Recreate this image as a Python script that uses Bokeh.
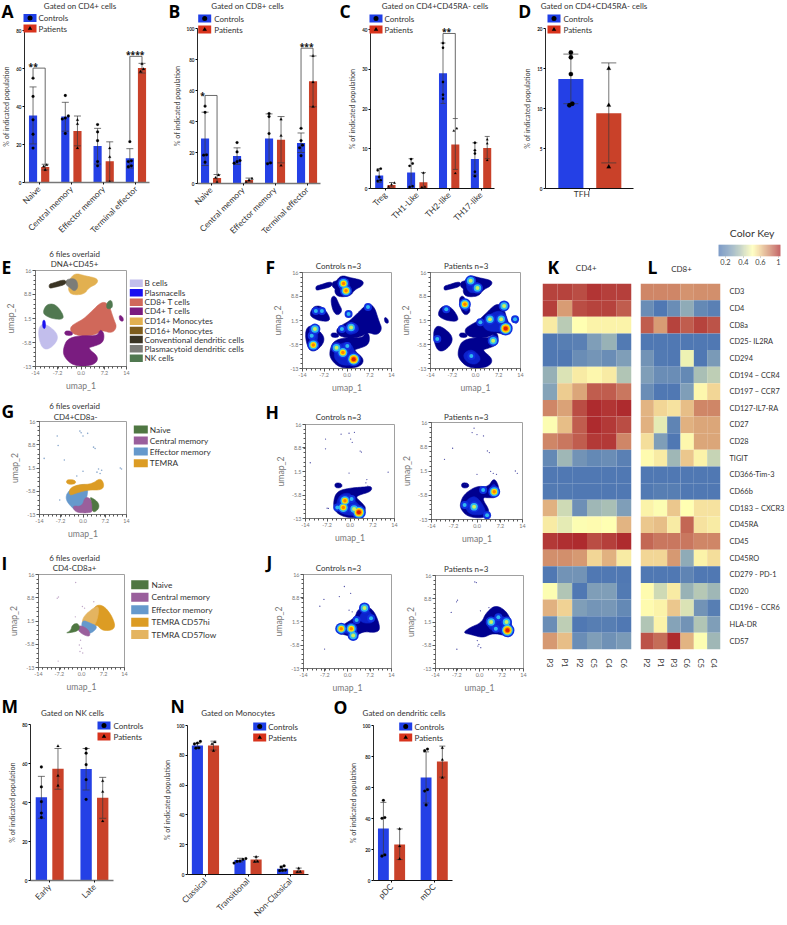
import math
import numpy as np
from bokeh.plotting import figure
from bokeh.layouts import column
from bokeh.models import Range1d, FixedTicker, FactorRange, LinearColorMapper, ColumnDataSource
from bokeh.core.properties import value
from bokeh.embed import file_html
from bokeh.resources import INLINE

FONT = "Lato"
BLUE = "#2440e6"
RED = "#c94129"

# ---------- bar chart data ----------
A_CATS = ["Naive", "Central memory", "Effector memory", "Terminal effector"]
A_CTRL = [35.3, 34.7, 19.2, 12.7]
A_CTRL_HI = [50.3, 42.2, 28.5, 17.8]
A_CTRL_LO = [20.3, 27.0, 9.7, 7.6]
A_CTRL_PTS = [[54.9, 45.3, 33.0, 25.4, 18.1], [45.8, 35.0, 33.9, 33.4, 25.8], [30.5, 26.6, 22.0, 11.0, 8.8], [21.5, 11.4, 11.0, 8.8, 8.3]]
A_PAT = [8.1, 27.1, 11.2, 60.2]
A_PAT_HI = [9.6, 35.0, 21.4, 62.7]
A_PAT_LO = [6.6, 19.3, 0.7, 57.6]
A_PAT_PTS = [[9.2, 8.5, 6.6], [32.9, 30.8, 18.1], [18.0, 13.4, 0.3], [62.4, 59.7, 58.3]]

B_CATS = A_CATS
B_CTRL = [29.1, 17.7, 29.1, 26.2]
B_CTRL_HI = [46.0, 23.0, 44.9, 32.6]
B_CTRL_LO = [11.6, 12.3, 13.3, 20.0]
B_CTRL_PTS = [[49.9, 45.9, 18.5, 18.3, 13.7], [26.4, 20.4, 14.8, 14.1, 13.1], [45.1, 43.2, 32.2, 13.3, 12.7], [35.6, 27.7, 24.7, 23.0, 17.9]]
B_PAT = [3.5, 2.3, 28.3, 65.9]
B_PAT_HI = [5.8, 3.5, 43.2, 82.3]
B_PAT_LO = [0.0, 1.0, 13.3, 49.5]
B_PAT_PTS = [[5.4, 3.7, 0.8], [3.1, 2.1, 0.8], [41.4, 30.8, 11.6], [82.3, 65.3, 49.5]]

C_CATS = ["Treg", "TH1-Like", "TH2-like", "TH17-like"]
C_CTRL = [3.3, 4.0, 29.0, 7.4]
C_CTRL_HI = [5.0, 7.5, 36.6, 11.5]
C_CTRL_LO = [1.5, 0.4, 21.4, 3.4]
C_CTRL_PTS = [[5.0, 4.6, 2.9, 2.1, 1.9], [7.4, 6.3, 5.7, 0.6, 0.4], [36.6, 35.4, 26.8, 23.6, 22.6], [11.5, 9.6, 8.8, 4.2, 3.1]]
C_PAT = [0.9, 1.6, 11.1, 10.2]
C_PAT_HI = [1.5, 4.0, 17.6, 13.1]
C_PAT_LO = [0.4, 0.0, 4.8, 7.5]
C_PAT_PTS = [[1.4, 1.0, 0.4], [3.9, 0.4, 0.3], [15.1, 14.5, 3.8], [12.3, 11.3, 7.1]]

D_CATS = ["TFH"]
D_CTRL = [13.7]
D_CTRL_HI = [16.8]
D_CTRL_LO = [10.6]
D_CTRL_PTS = [[17.0, 16.4, 14.3, 10.6, 10.4]]
D_PAT = [9.4]
D_PAT_HI = [15.7]
D_PAT_LO = [3.2]
D_PAT_PTS = [[15.0, 10.4, 2.7]]

M_CATS = ["Early", "Late"]
M_CTRL = [42.7, 57.2]
M_CTRL_HI = [53.4, 67.7]
M_CTRL_LO = [31.9, 46.4]
M_CTRL_PTS = [[58.2, 48.0, 40.4, 34.6, 32.3], [67.6, 65.3, 59.4, 51.7, 41.6]]
M_PAT = [57.3, 42.5]
M_PAT_HI = [67.7, 52.9]
M_PAT_LO = [46.8, 31.9]
M_PAT_PTS = [[68.9, 53.7, 48.6], [51.0, 45.5, 30.4]]

N_CATS = ["Classical", "Transitional", "Non-Classical"]
N_CTRL = [86.5, 9.7, 3.9]
N_CTRL_HI = [88.0, 10.9, 5.6]
N_CTRL_LO = [84.8, 8.4, 2.1]
N_CTRL_PTS = [[89.3, 88.2, 87.6, 85.0, 84.8], [10.7, 10.1, 9.0, 8.8, 7.7], [5.8, 4.9, 3.0, 2.8, 2.6]]
N_PAT = [86.5, 10.1, 2.8]
N_PAT_HI = [89.5, 12.0, 4.3]
N_PAT_LO = [83.5, 8.2, 1.3]
N_PAT_PTS = [[88.8, 87.6, 83.0], [11.8, 8.8, 8.6], [4.1, 1.9, 1.7]]

O_CATS = ["pDC", "mDC"]
O_CTRL = [33.5, 66.5]
O_CTRL_HI = [50.4, 83.0]
O_CTRL_LO = [16.5, 50.0]
O_CTRL_PTS = [[51.7, 40.6, 40.1, 16.5, 15.7], [84.8, 83.7, 58.6, 57.7, 48.7]]
O_PAT = [23.2, 76.8]
O_PAT_HI = [33.3, 86.7]
O_PAT_LO = [13.5, 66.7]
O_PAT_PTS = [[33.3, 22.1, 13.9], [85.6, 77.9, 66.3]]

# significance brackets: group index, top, left foot, right foot, stars
A_BRACKETS = [(0, 60.2, 54.9, 9.6, "**"), (3, 66.4, 22.0, 63.0, "****")]
B_BRACKETS = [(0, 56.8, 49.9, 5.8, "*"), (3, 87.3, 36.0, 82.3, "***")]
C_BRACKETS = [(2, 39.0, 36.6, 17.6, "**")]

# ---------- heatmap data ----------
MARKERS = ["CD3", "CD4", "CD8a", "CD25- IL2RA", "CD294", "CD194 \u2212 CCR4", "CD197 \u2212 CCR7", "CD127-IL7-RA",
           "CD27", "CD28", "TIGIT", "CD366-Tim-3", "CD66b", "CD183 \u2212 CXCR3", "CD45RA", "CD45", "CD45RO",
           "CD279 - PD-1", "CD20", "CD196 \u2212 CCR6", "HLA-DR", "CD57"]
K_SAMPLES = ["P3", "P1", "P2", "C5", "C4", "C6"]
K_VALUES = [
    [.95, .95, .93, .98, .96, .96], [.96, .77, .93, .95, .95, .90], [.60, .37, .55, .58, .58, .58],
    [.02, .05, .06, .20, .28, .03], [.02, .02, .12, .16, .12, .20], [.27, .45, .60, .57, .60, .35],
    [.22, .67, .75, .90, .90, .85], [.82, .76, .93, 1.0, .98, 1.0], [.54, .70, .90, 1.0, .97, .93],
    [.82, .85, .90, .97, .97, .82], [.10, .30, .15, .10, .12, .06], [.02, .02, .02, .02, .02, .02],
    [.03, .03, .02, .02, .02, .02], [.73, .42, .13, .30, .33, .20], [.60, .48, .54, .56, .55, .72],
    [.97, .99, 1.0, .93, .96, 1.0], [.80, .80, .78, .65, .73, .60], [.02, .15, .15, .02, .02, .02],
    [.54, .35, .02, .20, .20, .03], [.73, .66, .20, .16, .17, .10], [.12, .38, .02, .05, .05, .02],
    [.78, .70, .12, .20, .14, .18]]
L_SAMPLES = ["P2", "P1", "P3", "C6", "C5", "C4"]
L_VALUES = [
    [.82, .82, .82, .79, .80, .80], [.12, .02, .12, .25, .10, .06], [.90, .77, .95, .90, .95, .92],
    [.02, .02, .02, .02, .02, .02], [.15, .03, .02, .50, .02, .18], [.20, .12, .12, .10, .33, .38],
    [.12, .02, .02, .20, .57, .65], [.72, .65, .62, .70, .82, .82], [.73, .48, .08, .73, .75, .75],
    [.63, .20, .02, .57, .75, .75], [.56, .60, .30, .68, .58, .40], [.02, .02, .02, .02, .02, .02],
    [.03, .05, .05, .02, .02, .02], [.58, .54, .68, .55, .62, .62], [.68, .70, .60, .88, .62, .60],
    [.88, .85, .85, .85, .82, .82], [.65, .65, .78, .25, .58, .63], [.02, .02, .02, .08, .02, .02],
    [.56, .42, .60, .28, .36, .30], [.56, .58, .68, .45, .15, .05], [.35, .58, .22, .15, .35, .20],
    [.92, .87, 1.0, .72, .54, .30]]

# ---------- UMAP outlines, in umap coordinates ----------
MONO = [(-3.4, 13.6), (-1.7, 15.2), (1.2, 14.4), (5.2, 13.6), (5.0, 12), (2.4, 10.8), (1.0, 8.8), (-2.9, 8.6), (-4.0, 10.2), (-3.4, 12)]
PDC = [(-4.5, 13.4), (-1.5, 13.6), (-0.8, 11), (-2, 9.6), (-3.4, 10.8), (-4.8, 11.8)]
CDC = [(-9.8, 11.9), (-8.6, 12.2), (-4.8, 13.4), (-4.5, 11.8), (-8.6, 10.8), (-9.8, 10.6)]
NK = [(-11.6, 4.0), (-10.4, 5.9), (-7.8, 5.8), (-5.6, 3.0), (-5.4, 1.2), (-8.8, 1.4), (-11.4, 2.6)]
BCELL = [(-12.9, -0.9), (-11.2, 0.1), (-7.5, -2.6), (-7.1, -5.1), (-9.7, -7.8), (-11.9, -7.6), (-13.1, -4.1)]
PLASMA = [(-11.8, 1.0), (-11.0, 1.0), (-10.9, -1.6), (-11.8, -1.4)]
CD8 = [(-3.4, -1.1), (-1.5, 0.2), (0.7, 1.3), (3, 3.4), (6.4, 6.7), (8.6, 5.8), (10.0, 1.4), (11.1, -1.1), (9.5, -3.0), (6.4, -2.0), (4.5, -3.4), (0.7, -4.0), (-2.9, -3.0)]
CD4 = [(-5.4, -7.2), (-4.0, -4.4), (0.7, -3.6), (5, -3.8), (5.9, -1.7), (7.2, -3.1), (6.8, -5.9), (3.6, -7.0), (2.0, -7.4), (5.6, -10.2), (4.0, -12.7), (-2.1, -13), (-5.4, -10.0)]
NK2 = [(8.0, 6.5), (9.5, 7.2), (9.8, 4.6), (7.8, 4.3)]
MINOR_A = [(-5.0, -2.2), (-2.9, -2.3), (-2.4, -3.6), (-5.0, -3.6)]
MINOR_B = [(11.7, 2.6), (12.9, 2.0), (13.1, 0.6), (11.9, 0.8)]
MID_CLUSTER = [(-5.2, 8.2), (-3.8, 9.2), (-2.5, 6.4), (-1.4, 4.4), (-3, 2.9), (-4.5, 4.4)]
G_EM = [(-5.0, -6), (-2.2, -3.9), (1.5, -3.6), (1.5, -7), (0, -10.9), (-2.2, -12), (-4.5, -9.9), (-5.6, -8)]
G_TEMRA = [(-4.4, -4.8), (-1.2, -3.6), (2.7, -3.6), (5.7, -1.5), (6.9, -3.9), (5.9, -5.4), (1.7, -5.3), (-2.2, -6.3), (-4.4, -7.2)]
G_CM = [(-3.5, -10.2), (-0.3, -10.6), (0.7, -7.3), (2.9, -8.4), (3.5, -12), (1.2, -12.6), (-2.5, -12.3)]
G_NAIVE = [(2, -7.3), (5.0, -9.1), (5.2, -11.3), (3, -12.6), (3, -9.1)]
G_SMALL = [(-5.4, -2.1), (-2.5, -2.2), (-2.3, -3.5), (-5.2, -3.6)]
I_HI = [(4.0, 6.2), (7.0, 6.6), (10.1, 2.9), (11.2, -1.1), (6.8, -1.7), (4.8, 0.7), (2.8, -1.7), (3.5, 2)]
I_LOW = [(0.1, 2.4), (3.8, 5.6), (5.9, 6.2), (4.9, 0.7), (2.3, -1.7), (0.6, -0.6)]
I_EM = [(0.1, 1.9), (2.8, 0.9), (5.5, -0.3), (2.8, -2.7), (0.1, -1.6)]
I_CM = [(-1.4, 0.4), (2.3, -0.9), (3.0, -3.7), (-0.9, -2.1)]
I_NAIVE = [(-3.5, -1.6), (-3.0, 0.4), (-1, 0.9), (-0.5, -1.6), (-5.5, -2.4)]
H_BASE_C = [(-5.3, -8), (-4.2, -4.6), (-0.1, -3.6), (4.2, -3.3), (6.9, -3.0), (6.7, -4.7), (3, -5.7), (1.8, -6.5), (3.6, -8), (5.3, -10), (3.0, -12.7), (-1.6, -12.7), (-4.8, -10.9)]
H_BASE_P = [(-5.2, -8.2), (-4.0, -5.4), (0, -2.9), (3.4, -3.4), (5.3, -0.3), (7.0, -3.7), (5.9, -6.5), (3.8, -6.5), (1.3, -6.4), (4.2, -10.7), (2.1, -12.7), (-2.9, -12.2), (-5.0, -9.9)]
H_SMALL = [(-4.8, -2.0), (-2.6, -2.1), (-2.5, -3.5), (-4.7, -3.6)]
J_BASE_C = [(-3.2, -0.7), (-1, 0.7), (2.4, 2.7), (3.2, 5.2), (5.9, 6.4), (8.6, 4.7), (10.6, -0.7), (9.0, -2.0), (4.9, -1.5), (2, -3.6), (-1, -2.5), (-3.0, -2.3)]
J_BASE_P = [(-5.3, -1.9), (-3.2, -0.3), (0.7, 1.3), (2.0, 4.3), (5.2, 7.0), (9.3, 4.3), (10.7, -1.1), (8.8, -2.9), (4.2, -1.9), (1.2, -3.5), (-2.7, -2.4)]

# brighter blue regions inside the density outlines
F_MID_C = [[(-4, -8), (-2.5, -5.5), (1, -5), (2.5, -8), (4, -10.5), (2, -12), (-2, -12), (-4, -10)],
           [(-12, -1), (-10, -0.5), (-9, -3), (-10, -6.5), (-11.5, -6)], [(-2.5, 13), (1, 13), (0.5, 10), (-2, 9.5)], [(-1, 0), (3, 1), (4, -2), (0, -3)]]
F_MID_P = [[(2, 1), (6, 4.5), (9.5, 4), (10, -1.5), (7, -2), (3, -1.5)], [(-3, 13.5), (2, 12.8), (0.5, 9.8), (-2.5, 10)],
           [(-4.5, 8), (-3, 8), (-1.8, 4.8), (-3.5, 4)], [(-4, -8.5), (-1, -7), (2, -10), (0, -12), (-3, -11)]]
H_MID_C = [[(-4.3, -8), (-3, -5.5), (0, -5), (1, -7), (4, -10), (2.5, -12), (-1.5, -12), (-4, -10.5)]]
H_MID_P = [[(-4, -8.5), (-2.5, -6.5), (0, -6), (3, -10.5), (1.5, -11.7), (-2.5, -11.5)], [(3.8, -3.8), (5.3, -2), (6.3, -4), (5.2, -5.7)]]
J_MID_C = [[(-2.5, -1), (0, 0), (3, -1), (2, -3), (-1, -2)], [(3.5, 3), (6, 5.6), (8, 3.5), (8.5, 1), (4.5, 1)]]
J_MID_P = [[(2.5, 0), (5, 3.5), (9, 3), (10, -1), (8.5, -2.2), (4, -1.2)]]

# density hot spots: x, y, level
F_HOT_C = [(-1.1, 12.7, 3), (-0.3, 10.5, 3), (-9.8, 4.4, 1), (-7.9, 4.4, 1), (-10.1, -1.1, 2), (-10.6, -5.9, 3), (-11.1, -3.1, 1), (1.3, -0.6, 2), (-1.6, -1.1, 1), (-1.3, -8.2, 3), (-3.3, -6.7, 2), (2.1, -10.2, 4), (0.1, -6.2, 1), (0.5, 3.5, 1), (6.6, 5.6, 1)]
F_HOT_P = [(-1.5, 13.5, 2), (0.6, 11.3, 2), (-3.3, 6.4, 3), (4.5, 1.9, 2), (9.4, -0.9, 4), (8, 1.9, 2), (8.9, 5.9, 2), (5.5, -4.6, 2), (-11.9, -4.1, 1), (-9.1, 4.9, 1), (12.3, 1.9, 1), (-1.3, -9.2, 1), (1.5, 1, 1)]
H_HOT_C = [(-1.6, -7.5, 3), (-2.1, -9.6, 3), (0.5, -7, 1), (2.8, -11.1, 4), (1.3, -10.1, 2), (-4, -9.6, 1)]
H_HOT_P = [(5.3, -4.7, 3), (-0.9, -9.2, 2), (-3.8, -8.7, 1), (3.1, -11.7, 1), (1.9, -4.2, 1)]
J_HOT_C = [(-2, -0.7, 3), (1.2, -0.7, 3), (1.8, -2.8, 2), (5.4, 5.7, 2), (2.9, 2, 1), (7.5, 2.5, 1)]
J_HOT_P = [(8.9, -1.1, 4), (3.7, 1.5, 2), (8.6, 1.5, 2), (5.2, -0.6, 1), (6, 3, 1)]
G_SPECKS = [(-1, 13), (-0.6, 12.5), (0, 11.5), (1.5, 12.3), (3.4, 8), (3.9, 7.6), (-8, 8.5), (-8.3, 11.5), (-12.5, 4.5), (-6, 4), (5, 1.2), (6, 0.8), (5.5, -0.2), (4.5, 0.2), (12, 1.5), (12.4, 1.2), (-2, -1), (0, 0.5), (-7.5, -8.5)]
I_SPECKS = [(-1.9, 13.5), (-7.5, 9), (-7.9, 8.6), (-7.6, -11), (-0.7, -6), (0, -7), (-0.5, -8), (0.4, -8.5), (-0.3, -4.5), (0.3, 6), (1, 5.5), (4, 7.5), (-2, 2.8)]
H_SPECKS_C = [(-2.8, 13), (-0.3, 13.3), (0.2, 11.5), (0.7, 10.5), (1.4, 13.6), (3.2, 7.8), (3.6, 7.5), (-7.7, 11.5), (-7.7, 8.5), (-12.5, 4.2), (12, 1.3), (-0.3, 1), (5.3, -1), (5, -2), (5.6, -3), (-7.2, -9.8), (-6.8, -9.9)]
H_SPECKS_P = [(-0.9, 14.3), (-1.5, 13), (0, 12.4), (2, 12), (3.2, 7.5), (3.8, 7), (-7.5, 8.3), (-10, 5), (11.8, 1.5), (12.4, 0.8), (4.2, 1.4), (5, 0.8), (6, 0.5), (0, 0.5), (-3.8, -2.5), (-3.2, -2.6)]
J_SPECKS_C = [(-1, 12.3), (1, 10.2), (-7.5, 8.3), (-8.8, 6.2), (-7.3, -7), (-2.6, 9.2), (0.5, 5), (1.5, 4.5)]
J_SPECKS_P = [(-1.5, 14), (-1, 13.8), (-7, 8.3), (-7.3, 7.8), (-9, 4.5), (-7.2, -7), (-0.7, -4.3), (-0.2, -5.5), (0.4, -6.5), (-0.5, -6), (3, 6), (0.3, 5)]

UMAP_X_TICKS = [-14, -7.2, 0, 7.2, 14]
UMAP_X_LABELS = ["-14", "-7.2", "0.0", "7.2", "14"]
UMAP_Y_TICKS = [-13, -5.8, 1.5, 8.8, 16]
UMAP_Y_LABELS = ["-13", "-5.8", "1.5", "8.8", "16"]

E_LEGEND = ["B cells", "Plasmacells", "CD8+ T cells", "CD4+ T cells", "CD14+ Monocytes", "CD16+ Monocytes", "Conventional dendritic cells", "Plasmacytoid dendritic cells", "NK cells"]
E_COLORS = ["#c2beec", "#1a10f0", "#d0685a", "#7a1c80", "#e2b050", "#7d5c1c", "#3a3424", "#7c7c78", "#507850"]
G_LEGEND = ["Naive", "Central memory", "Effector memory", "TEMRA"]
G_COLORS = ["#4f7742", "#9a5f9c", "#6699cc", "#dc9c24"]
I_LEGEND = ["Naive", "Central memory", "Effector memory", "TEMRA CD57hi", "TEMRA CD57low"]
I_COLORS = ["#4f7742", "#9a5f9c", "#6699cc", "#dc9c24", "#e4b460"]

placed = []  # (figure, left, top)


def base_fig(x0, y0, x1, y1, xr, yr, pl=22, pr=3, pt=3, pb=14, **kw):
    w = int(round(x1 - x0 + pl + pr))
    h = int(round(y1 - y0 + pt + pb))
    p = figure(width=w, height=h, x_range=xr, y_range=yr, toolbar_location=None, output_backend="svg",
               min_border_left=pl, min_border_right=pr, min_border_top=pt, min_border_bottom=pb, frame_align=False, **kw)
    p.background_fill_color = None
    p.border_fill_color = None
    p.outline_line_color = None
    p.grid.visible = False
    placed.append((p, int(round(x0 - pl)), int(round(y0 - pt))))
    return p


def swarm(vals, px_per_unit, d=3.2, gap=2.8):
    vals = sorted(vals)
    out = []
    i = 0
    while i < len(vals):
        j = i
        while j + 1 < len(vals) and (vals[j + 1] - vals[j]) * px_per_unit < gap:
            j += 1
        n = j - i + 1
        for k in range(n):
            out.append(((k - (n - 1) / 2) * d, vals[i + k]))
        i = j + 1
    return out


def bars(frame, ymax, yticks, cats, c0, spacing, off, bw, ctrl, chi, clo, cpts, pat, phi, plo, ppts,
         brackets=(), axis_color="#111111", axis_w=1.0, msize=2.8, cap=7, label_rot=math.pi / 4, pb=54):
    x0, y0, x1, y1 = frame
    xr = Range1d((x0 - c0) / spacing, (x1 - c0) / spacing)
    p = base_fig(x0, y0, x1, y1, xr, Range1d(0, ymax), pl=18, pr=3, pt=3, pb=pb)
    idx = np.arange(len(cats), dtype=float)
    o = off / spacing
    ppu = (y1 - y0) / ymax
    for sign, vals, hi, lo, pts, col, mark in ((-1, ctrl, chi, clo, cpts, BLUE, "circle"), (1, pat, phi, plo, ppts, RED, "triangle")):
        xs = idx + sign * o
        p.vbar(x=xs, top=vals, width=bw / spacing, bottom=0, fill_color=col, line_color=None)
        p.segment(xs, lo, xs, hi, line_color="#3a3a3a", line_width=0.7)
        p.scatter(xs, hi, marker="dash", size=cap, line_color="#3a3a3a", line_width=0.7)
        p.scatter(xs, lo, marker="dash", size=cap, line_color="#3a3a3a", line_width=0.7)
        px, py = [], []
        for i, group in enumerate(pts):
            for dx, v in swarm(group, ppu):
                px.append(xs[i] + dx / spacing)
                py.append(v)
        p.scatter(px, py, marker=mark, size=msize, fill_color="#000000", line_color="#000000", line_width=0.2)
    for g, top, left, right, _ in brackets:
        p.line([g - o, g - o, g + o, g + o], [left, top, top, right], line_color="#444444", line_width=0.8)
    p.xaxis.ticker = FixedTicker(ticks=list(idx))
    p.xaxis.major_label_overrides = {float(i): c for i, c in enumerate(cats)}
    p.xaxis.major_label_orientation = label_rot
    p.xaxis.major_label_text_font = FONT
    p.xaxis.major_label_text_font_size = "8.4px"
    p.xaxis.major_label_text_color = "#333333"
    p.xaxis.major_label_standoff = 3
    p.xaxis.major_tick_out = 2
    p.xaxis.major_tick_in = 0
    p.xaxis.minor_tick_out = 0
    p.xaxis.minor_tick_in = 0
    p.xaxis.axis_line_color = axis_color
    p.xaxis.axis_line_width = axis_w
    p.xaxis.major_tick_line_color = "#111111"
    p.yaxis.ticker = FixedTicker(ticks=yticks)
    p.yaxis.major_label_text_font = FONT
    p.yaxis.major_label_text_font_size = "4.6px"
    p.yaxis.major_label_text_font_style = "bold"
    p.yaxis.major_label_text_color = "#222222"
    p.yaxis.major_label_standoff = 1
    p.yaxis.major_tick_out = 2
    p.yaxis.major_tick_in = 0
    p.yaxis.minor_tick_out = 0
    p.yaxis.minor_tick_in = 0
    p.yaxis.axis_line_color = "#111111"
    p.yaxis.axis_line_width = 0.9
    p.yaxis.axis_label = "% of indicated population"
    p.yaxis.axis_label_text_font = FONT
    p.yaxis.axis_label_text_font_size = "7.2px"
    p.yaxis.axis_label_text_font_style = "normal"
    p.yaxis.axis_label_text_color = "#444444"
    p.yaxis.axis_label_standoff = 2
    return p


bars((17.3, 30, 149, 187), 80, [0, 20, 40, 60, 80], A_CATS, 32.7, 34, 6.4, 8.6,
     A_CTRL, A_CTRL_HI, A_CTRL_LO, A_CTRL_PTS, A_PAT, A_PAT_HI, A_PAT_LO, A_PAT_PTS, A_BRACKETS, axis_color="#777777", axis_w=1.5)
bars((187.3, 28.3, 320.7, 188.7), 100, [0, 20, 40, 60, 80, 100], B_CATS, 202, 34.7, 6.5, 8.8,
     B_CTRL, B_CTRL_HI, B_CTRL_LO, B_CTRL_PTS, B_PAT, B_PAT_HI, B_PAT_LO, B_PAT_PTS, B_BRACKETS, axis_color="#777777", axis_w=1.5)
bars((363, 29.3, 494, 188.3), 40, [0, 10, 20, 30, 40], C_CATS, 378.7, 33.7, 6.5, 8.5,
     C_CTRL, C_CTRL_HI, C_CTRL_LO, C_CTRL_PTS, C_PAT, C_PAT_HI, C_PAT_LO, C_PAT_PTS, C_BRACKETS, msize=2.4, cap=5)
bars((538.3, 28, 633, 188.3), 20, [0, 5, 10, 15, 20], D_CATS, 586, 81, 20.4, 27,
     D_CTRL, D_CTRL_HI, D_CTRL_LO, D_CTRL_PTS, D_PAT, D_PAT_HI, D_PAT_LO, D_PAT_PTS, msize=4.4, cap=15, label_rot=0, pb=20)
bars((22.7, 724.3, 112.7, 880.7), 80, [0, 20, 40, 60, 80], M_CATS, 43.5, 48.5, 9, 12.3,
     M_CTRL, M_CTRL_HI, M_CTRL_LO, M_CTRL_PTS, M_PAT, M_PAT_HI, M_PAT_LO, M_PAT_PTS, axis_color="#777777", axis_w=1.5, cap=7, pb=44)
bars((177.3, 725, 308, 880.3), 100, [0, 20, 40, 60, 80, 100], N_CATS, 196.7, 46, 8.7, 12,
     N_CTRL, N_CTRL_HI, N_CTRL_LO, N_CTRL_PTS, N_PAT, N_PAT_HI, N_PAT_LO, N_PAT_PTS, cap=6, pb=44)
bars((363.3, 725, 452.7, 880.3), 100, [0, 20, 40, 60, 80, 100], O_CATS, 383.7, 48.3, 9.2, 12.3,
     O_CTRL, O_CTRL_HI, O_CTRL_LO, O_CTRL_PTS, O_PAT, O_PAT_HI, O_PAT_LO, O_PAT_PTS, cap=6, pb=44)


def umap(frame):
    x0, y0, x1, y1 = frame
    p = base_fig(x0, y0, x1, y1, Range1d(-14, 14), Range1d(-13, 16), pl=26, pr=6, pt=3, pb=27)
    p.outline_line_color = "#a0a0a0"
    p.outline_line_width = 1
    p.xaxis.ticker = FixedTicker(ticks=UMAP_X_TICKS, minor_ticks=[float(v) for v in np.linspace(-14, 14, 21)])
    p.yaxis.ticker = FixedTicker(ticks=UMAP_Y_TICKS, minor_ticks=[float(v) for v in np.linspace(-13, 16, 21)])
    p.xaxis.major_label_overrides = {k: l for k, l in zip(UMAP_X_TICKS, UMAP_X_LABELS)}
    p.yaxis.major_label_overrides = {k: l for k, l in zip(UMAP_Y_TICKS, UMAP_Y_LABELS)}
    p.xaxis.axis_label = "umap_1"
    p.yaxis.axis_label = "umap_2"
    for ax in (p.xaxis, p.yaxis):
        ax.axis_line_color = "#666666"
        ax.axis_line_width = 0.8
        ax.major_tick_out = 3
        ax.major_tick_in = 0
        ax.minor_tick_out = 2
        ax.minor_tick_in = 0
        ax.major_tick_line_color = "#555555"
        ax.minor_tick_line_color = "#555555"
        ax.major_label_text_font = FONT
        ax.major_label_text_font_size = "5.4px"
        ax.major_label_text_color = "#777777"
        ax.major_label_standoff = 1
        ax.axis_label_text_font = FONT
        ax.axis_label_text_font_size = "8.6px"
        ax.axis_label_text_font_style = "normal"
        ax.axis_label_text_color = "#777777"
        ax.axis_label_standoff = 3
    return p


def chaikin(pts, rounds=3):
    pts = list(pts)
    for _ in range(rounds):
        out = []
        for i, (ax, ay) in enumerate(pts):
            bx, by = pts[(i + 1) % len(pts)]
            out.append((0.75 * ax + 0.25 * bx, 0.75 * ay + 0.25 * by))
            out.append((0.25 * ax + 0.75 * bx, 0.25 * ay + 0.75 * by))
        pts = out
    return pts


def poly(p, pts, color, alpha=1.0):
    sm = chaikin(pts)
    p.patch([a for a, _ in sm], [b for _, b in sm], fill_color=color, line_color=color, line_width=0.6, fill_alpha=alpha)


JET = {1: [("#1030e0", 8), ("#30b8f0", 4)],
       2: [("#1030e0", 11), ("#30b8f0", 7.5), ("#c8f060", 4)],
       3: [("#1030e0", 12), ("#30b8f0", 9), ("#ffe000", 6), ("#ff8000", 3.5)],
       4: [("#1030e0", 14), ("#30b8f0", 11), ("#ffe000", 8.5), ("#ff8000", 6), ("#e02000", 4)]}


def density(frame, polys, mids, hot, specks=()):
    p = umap(frame)
    for pts in polys:
        poly(p, pts, "#00008f")
    for pts in mids:
        poly(p, pts, "#0c22cc")
    for ring in range(5):
        xs, ys, ss, cs = [], [], [], []
        for hx, hy, lv in hot:
            if ring < len(JET[lv]):
                c, s = JET[lv][ring]
                xs.append(hx)
                ys.append(hy)
                ss.append(s)
                cs.append(c)
        if xs:
            p.scatter(xs, ys, size=ss, fill_color=cs, line_color=None, marker="circle")
    if specks:
        p.scatter([a for a, _ in specks], [b for _, b in specks], size=1.3, fill_color="#20208f", line_color=None, fill_alpha=0.8)
    return p


# panel E
pe = umap((28.3, 270, 126.7, 366))
for pts, col in ((BCELL, E_COLORS[0]), (PLASMA, E_COLORS[1]), (NK, E_COLORS[8]), (CD8, E_COLORS[2]), (CD4, E_COLORS[3]),
                 (MONO, E_COLORS[4]), (PDC, E_COLORS[7]), (CDC, E_COLORS[6]), (NK2, E_COLORS[8]), (MINOR_A, E_COLORS[3]), (MINOR_B, E_COLORS[3])):
    poly(pe, pts, col)

ALL_F = [MONO, PDC, CDC, NK, BCELL, CD8, CD4, MINOR_A, MINOR_B, MID_CLUSTER]
density((295, 272, 391, 368), ALL_F, F_MID_C, F_HOT_C)
density((423, 272, 520, 368), ALL_F, F_MID_P, F_HOT_P)

# panel G
pg = umap((32, 421, 126, 514))
for pts, col in ((G_EM, G_COLORS[2]), (G_CM, G_COLORS[1]), (G_NAIVE, G_COLORS[0]), (G_TEMRA, G_COLORS[3]), (G_SMALL, G_COLORS[3])):
    poly(pg, pts, col)
pg.scatter([a for a, _ in G_SPECKS], [b for _, b in G_SPECKS], size=1.6, fill_color="#8aa8cc", line_color=None)
density((297.7, 424, 393.3, 517.7), [H_BASE_C, H_SMALL], H_MID_C, H_HOT_C, H_SPECKS_C)
density((424, 422, 522, 519), [H_BASE_P, H_SMALL], H_MID_P, H_HOT_P, H_SPECKS_P)

# panel I
pi_ = umap((31, 574, 124, 667))
for pts, col in ((I_HI, I_COLORS[3]), (I_LOW, I_COLORS[4]), (I_EM, I_COLORS[2]), (I_CM, I_COLORS[1]), (I_NAIVE, I_COLORS[0])):
    poly(pi_, pts, col)
pi_.scatter([a for a, _ in I_SPECKS], [b for _, b in I_SPECKS], size=1.4, fill_color="#c0a8c8", line_color=None)
density((295.7, 574, 391, 668), [J_BASE_C], J_MID_C, J_HOT_C, J_SPECKS_C)
density((428, 575, 523, 668), [J_BASE_P], J_MID_P, J_HOT_P, J_SPECKS_P)

# ---------- heatmaps ----------
KEY_STOPS = [0, .2, .33, .45, .55, .65, .75, .85, 1]
KEY_COLORS = ["#4b74b2", "#7f9eb8", "#a9bfb5", "#dbe3b5", "#ffffb2", "#f2d696", "#dca77a", "#c9785f", "#ae2b2e"]
rgb = np.array([[int(c[i:i + 2], 16) for i in (1, 3, 5)] for c in KEY_COLORS], dtype=float)
grid = np.linspace(0, 1, 256)
PALETTE = ["#%02x%02x%02x" % tuple(int(round(np.interp(t, KEY_STOPS, rgb[:, k]))) for k in range(3)) for t in grid]
mapper = LinearColorMapper(palette=PALETTE, low=0, high=1)


def heat(frame, samples, values, right_labels, pl, pr):
    x0, y0, x1, y1 = frame
    p = base_fig(x0, y0, x1, y1, FactorRange(factors=samples, factor_padding=0, range_padding=0),
                 FactorRange(factors=MARKERS[::-1], factor_padding=0, range_padding=0), pl=pl, pr=pr, pt=2, pb=20,
                 y_axis_location="right" if right_labels else "left")
    xs, ys, vs = [], [], []
    for r, row in enumerate(values):
        for c, v in enumerate(row):
            xs.append(samples[c])
            ys.append(MARKERS[r])
            vs.append(v)
    src = ColumnDataSource(dict(x=xs, y=ys, v=vs))
    p.rect("x", "y", width=1, height=1, source=src, fill_color={"field": "v", "transform": mapper}, line_color=None)
    for ax in (p.xaxis, p.yaxis):
        ax.axis_line_color = None
        ax.major_tick_line_color = None
        ax.minor_tick_line_color = None
        ax.major_label_text_font = FONT
        ax.major_label_text_font_size = "7.4px"
        ax.major_label_text_color = "#333333"
        ax.major_label_standoff = 3
    p.xaxis.major_label_orientation = -math.pi / 2
    p.xaxis.major_label_text_font_size = "7.6px"
    if not right_labels:
        p.yaxis.visible = False
    return p


heat((542, 283, 631, 650), K_SAMPLES, K_VALUES, False, 3, 3)
heat((640, 283, 728, 650), L_SAMPLES, L_VALUES, True, 3, 59)

KEY_VALUES = [float(v) for v in np.linspace(0, 1, 124)]
KEY_TICKS = [0.113, 0.403, 0.677, 0.968]
KEY_TICK_LABELS = ["0.2", "0.4", "0.6", "1"]
pk = base_fig(718, 244, 780, 256, Range1d(0, 1), Range1d(0, 1), pl=6, pr=6, pt=2, pb=12)
pk.rect(x=KEY_VALUES, y=0.5, width=1 / 123, height=1, fill_color=[PALETTE[int(round(v * 255))] for v in KEY_VALUES], line_color=None)
pk.yaxis.visible = False
pk.xaxis.ticker = FixedTicker(ticks=KEY_TICKS)
pk.xaxis.major_label_overrides = dict(zip(KEY_TICKS, KEY_TICK_LABELS))
pk.xaxis.major_label_text_font = FONT
pk.xaxis.major_label_text_font_size = "7.4px"
pk.xaxis.major_label_text_color = "#444444"
pk.xaxis.major_label_standoff = 1
pk.xaxis.axis_line_color = None
pk.xaxis.major_tick_out = 1
pk.xaxis.major_tick_in = 0
pk.xaxis.major_tick_line_color = "#aaaaaa"
pk.xaxis.minor_tick_out = 0
pk.xaxis.minor_tick_in = 0

# ---------- overlay for letters, titles, legends ----------
ov = figure(width=787, height=925, x_range=Range1d(0, 787), y_range=Range1d(925, 0), toolbar_location=None,
            output_backend="svg", min_border=0, x_axis_location=None, y_axis_location=None, frame_align=False)
ov.background_fill_color = None
ov.border_fill_color = None
ov.outline_line_color = None
ov.grid.visible = False
placed.append((ov, 0, 0))


def txt(x, y, s, size=8.0, align="left", color="#333333", style="normal", font=FONT, angle=0):
    ov.text([x], [y], text=[s], text_font=value(font), text_font_size=f"{size}px", text_align=align,
            text_baseline="middle", text_color=color, text_font_style=style, angle=angle)


LETTERS = [("A", 1, 10.5), ("B", 168, 10.5), ("C", 339, 10.5), ("D", 517.7, 10.5), ("E", 1, 266), ("F", 265, 266), ("G", 1, 410), ("H", 265, 411),
           ("I", 1, 562), ("J", 266, 561), ("K", 547, 266), ("L", 647, 266), ("M", 1, 705), ("N", 170, 705), ("O", 333, 706)]
for s, x, y in LETTERS:
    txt(x, y, s, size=17.5, style="bold", color="#000000", font="Open Sans")

TITLES = [("Gated on CD4+ cells", 79.5, 5.5), ("Gated on CD8+ cells", 247, 5.5), ("Gated on CD4+CD45RA- cells", 434.5, 5.5), ("Gated on CD4+CD45RA- cells", 593.5, 5.5),
          ("6 files overlaid", 74, 253), ("DNA+CD45+", 74, 263), ("Controls  n=3", 339, 265), ("Patients n=3", 465.7, 265),
          ("6 files overlaid", 74, 405), ("CD4+CD8a-", 75, 416), ("Controls  n=3", 339, 416.7), ("Patients n=3", 465.7, 416.7),
          ("6 files overlaid", 74, 557), ("CD4-CD8a+", 74, 567.7), ("Controls  n=3", 339, 567.7), ("Patients n=3", 465.7, 568),
          ("CD4+", 585.7, 267), ("CD8+", 681, 268),
          ("Gated on NK cells", 72, 712), ("Gated on Monocytes", 237.5, 712), ("Gated on dendritic cells", 403.5, 712)]
for s, x, y in TITLES:
    txt(x, y, s, align="center")
txt(751.7, 232, "Color Key", size=10.4, align="center")

LEGENDS = [(23, 38, 17.5, 28), (197.7, 213.7, 18, 29), (369, 384, 18, 29), (547, 563, 18, 29),
           (97, 113, 725, 736), (252.7, 267.7, 726, 737), (398.7, 414, 726, 737)]
for sx, tx, y1, y2 in LEGENDS:
    ov.rect([sx + 6.5, sx + 6.5], [y1, y2], width=13, height=8, fill_color=["#1f3fe6", "#d8331c"], line_color=None)
    ov.scatter([sx + 6.5], [y1], marker="circle", size=5, fill_color="#000000", line_color=None)
    ov.scatter([sx + 6.5], [y2], marker="triangle", size=4.5, fill_color="#000000", line_color=None)
    txt(tx, y1, "Controls", size=8.0)
    txt(tx, y2, "Patients", size=8.0)

for labels, colors, ys, sx, sw, sh, tx, size in (
        (E_LEGEND, E_COLORS, [282.7, 292.3, 301.7, 310.7, 320.7, 330, 339, 348.3, 357.7], 129.3, 13, 7.5, 144, 8.2),
        (G_LEGEND, G_COLORS, [429, 440, 451, 462.7], 133.3, 14, 8, 149.3, 8.3),
        (I_LEGEND, I_COLORS, [584.3, 596.7, 609.3, 621.7, 634], 130.7, 17.3, 9, 151, 8.3)):
    ov.rect([sx + sw / 2] * len(ys), ys, width=sw, height=sh, fill_color=colors, line_color=None)
    for s, y in zip(labels, ys):
        txt(tx, y, s, size=size)

# stars above brackets
for spec, c0, sp, y_zero, ppu in ((A_BRACKETS, 32.7, 34, 187, 157 / 80), (B_BRACKETS, 202, 34.7, 188.7, 160.4 / 100), (C_BRACKETS, 378.7, 33.7, 188.3, 159 / 40)):
    for g, top, _, _, s in spec:
        txt(c0 + g * sp, y_zero - top * ppu - 2.5, s, size=8.5, align="center", style="bold", color="#111111", font="Open Sans")

# ---------- absolute stacking through margins ----------
children = []
prev_bottom = 0
for fig, left, top in placed:
    fig.margin = (top - prev_bottom, 0, 0, left)
    prev_bottom = top + fig.height
    children.append(fig)
root = column(*children, width=787, height=925)

open("out.html", "w").write(file_html(root, INLINE))
